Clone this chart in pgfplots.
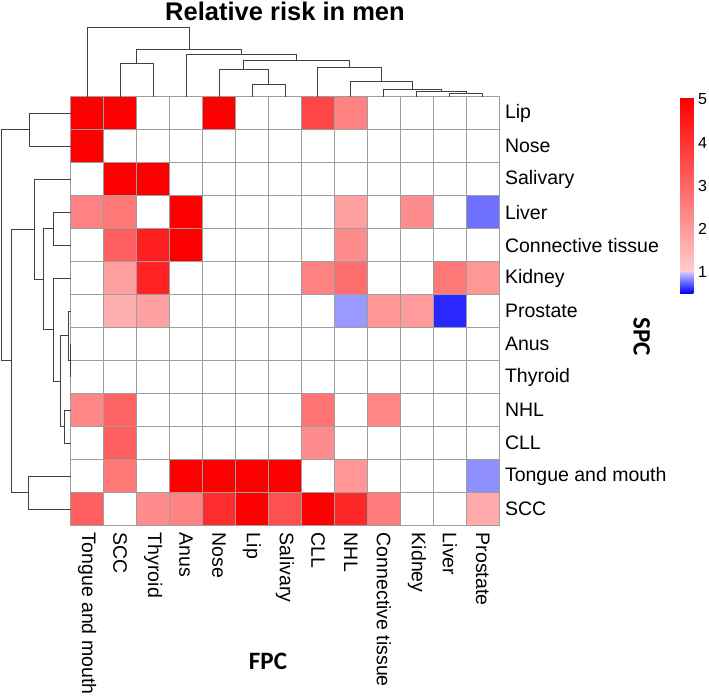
\documentclass[border=0pt]{standalone}
\usepackage{pgfplots}
\pgfplotsset{compat=1.18}
\usepackage{fontspec}
\setmainfont{Liberation Sans}
\newfontfamily\carlito{Carlito}
\newcommand\lblfont{\fontsize{19.5bp}{23bp}\selectfont}
\begin{document}
\begin{tikzpicture}
\useasboundingbox (0,0) rectangle (709bp,697bp);
\pgfplotsset{dend/.style={black!75, line width=1bp}}
% ---------------- heatmap ----------------
\begin{axis}[
  at={(70.7bp,171.3bp)}, anchor=south west,
  width=428.6bp, height=429bp, scale only axis,
  xmin=-0.5, xmax=12.5, ymin=-0.5, ymax=12.5, y dir=reverse,
  xtick={0,...,12}, ytick={0,...,12},
  xticklabels={Tongue and mouth,SCC,Thyroid,Anus,Nose,Lip,Salivary,CLL,NHL,Connective tissue,Kidney,Liver,Prostate},
  yticklabels={Lip,Nose,Salivary,Liver,Connective tissue,Kidney,Prostate,Anus,Thyroid,NHL,CLL,Tongue and mouth,SCC},
  yticklabel pos=right,
  minor xtick={-0.5,0.5,...,12.5}, minor ytick={-0.5,0.5,...,12.5},
  grid=minor, minor grid style={draw=black!38, line width=0.9bp},
  major tick length=0pt, minor tick length=0pt,
  axis line style={draw=black!38, line width=0.9bp},
  axis on top,
  xticklabel style={font=\lblfont, inner sep=0pt, yshift=-7bp, rotate=-90, anchor=west},
  yticklabel style={font=\lblfont, inner sep=0pt, xshift=5.5bp, anchor=west},
  colormap={rr}{rgb255(0pt)=(0,0,255); rgb255(49pt)=(200,200,255); rgb255(50pt)=(255,255,255); rgb255(51pt)=(255,205,205); rgb255(450pt)=(255,0,0); rgb255(455pt)=(255,0,0)},
  point meta min=0.5, point meta max=5.05,
  colorbar,
  colorbar style={
    at={(parent axis.north east)}, anchor=north west,
    xshift=172.2bp, yshift=-0.6bp,
    width=13.3bp, height=196bp, scale only axis,
    ytick={1,2,3,4,5},
    major tick length=0pt,
    axis line style={draw=none},
    yticklabel style={font=\fontsize{16bp}{18bp}\selectfont, /pgf/number format/assume math mode=true, anchor=west, inner sep=0pt, xshift=4.5bp},
  },
]
\addplot[matrix plot*, mesh/cols=13, point meta=explicit] table[meta=v] {
x y v
0 0 5.05
1 0 5.05
2 0 1
3 0 1
4 0 5.05
5 0 1
6 0 1
7 0 3.63
8 0 2.46
9 0 1
10 0 1
11 0 1
12 0 1
0 1 5.05
1 1 1
2 1 1
3 1 1
4 1 1
5 1 1
6 1 1
7 1 1
8 1 1
9 1 1
10 1 1
11 1 1
12 1 1
0 2 1
1 2 5.05
2 2 5.05
3 2 1
4 2 1
5 2 1
6 2 1
7 2 1
8 2 1
9 2 1
10 2 1
11 2 1
12 2 1
0 3 2.46
1 3 2.66
2 3 1
3 3 5.05
4 3 1
5 3 1
6 3 1
7 3 1
8 3 1.88
9 3 1
10 3 2.27
11 3 1
12 3 0.775
0 4 1
1 4 3.15
2 4 4.41
3 4 5.05
4 4 1
5 4 1
6 4 1
7 4 1
8 4 2.27
9 4 1
10 4 1
11 4 1
12 4 1
0 5 1
1 5 1.88
2 5 4.32
3 5 1
4 5 1
5 5 1
6 5 1
7 5 2.46
8 5 2.85
9 5 1
10 5 1
11 5 2.66
12 5 2.07
0 6 1
1 6 1.59
2 6 1.88
3 6 1
4 6 1
5 6 1
6 6 1
7 6 1
8 6 0.875
9 6 2.07
10 6 1.98
11 6 0.6
12 6 1
0 7 1
1 7 1
2 7 1
3 7 1
4 7 1
5 7 1
6 7 1
7 7 1
8 7 1
9 7 1
10 7 1
11 7 1
12 7 1
0 8 1
1 8 1
2 8 1
3 8 1
4 8 1
5 8 1
6 8 1
7 8 1
8 8 1
9 8 1
10 8 1
11 8 1
12 8 1
0 9 2.37
1 9 3.05
2 9 1
3 9 1
4 9 1
5 9 1
6 9 1
7 9 2.76
8 9 1
9 9 2.37
10 9 1
11 9 1
12 9 1
0 10 1
1 10 3.15
2 10 1
3 10 1
4 10 1
5 10 1
6 10 1
7 10 2.27
8 10 1
9 10 1
10 10 1
11 10 1
12 10 1
0 11 1
1 11 2.66
2 11 1
3 11 5.05
4 11 5.05
5 11 5.05
6 11 5.05
7 11 1
8 11 2.07
9 11 1
10 11 1
11 11 1
12 11 0.85
0 12 3.15
1 12 1
2 12 2.27
3 12 2.46
4 12 4.12
5 12 5.05
6 12 3.44
7 12 5.05
8 12 4.22
9 12 2.56
10 12 1
11 12 1
12 12 1.68
};
\end{axis}
% ---------------- top dendrogram ----------------
\begin{axis}[
  at={(70.7bp,600.3bp)}, anchor=south west,
  width=428.6bp, height=70.7bp, scale only axis,
  xmin=-0.5, xmax=12.5, ymin=0, ymax=70.7,
  axis lines=none, clip=false,
]
\addplot[dend] coordinates {(1,0)(1,33.5)(2,33.5)(2,0)};
\addplot[dend] coordinates {(5,0)(5,11.8)(6,11.8)(6,0)};
\addplot[dend] coordinates {(4,0)(4,26.8)(5.5,26.8)(5.5,11.8)};
\addplot[dend] coordinates {(11,0)(11,3)(12,3)(12,0)};
\addplot[dend] coordinates {(10,0)(10,5.5)(11.5,5.5)(11.5,3)};
\addplot[dend] coordinates {(9,0)(9,6.8)(10.75,6.8)(10.75,5.5)};
\addplot[dend] coordinates {(8,0)(8,14.8)(9.875,14.8)(9.875,6.8)};
\addplot[dend] coordinates {(7,0)(7,29.2)(8.9375,29.2)(8.9375,14.8)};
\addplot[dend] coordinates {(4.75,26.8)(4.75,35.8)(7.96875,35.8)(7.96875,29.2)};
\addplot[dend] coordinates {(3,0)(3,42.5)(6.359,42.5)(6.359,35.8)};
\addplot[dend] coordinates {(1.5,33.5)(1.5,47.5)(4.680,47.5)(4.680,42.5)};
\addplot[dend] coordinates {(0,0)(0,69)(3.090,69)(3.090,47.5)};
\end{axis}
% ---------------- left dendrogram ----------------
\begin{axis}[
  at={(0bp,171.3bp)}, anchor=south west,
  width=70.7bp, height=429bp, scale only axis,
  xmin=0, xmax=70.7, x dir=reverse,
  ymin=-0.5, ymax=12.5, y dir=reverse,
  axis lines=none, clip=false,
]
\addplot[dend] coordinates {(0,0)(41.6,0)(41.6,1)(0,1)};
\addplot[dend] coordinates {(0,3)(17.4,3)(17.4,4)(0,4)};
\addplot[dend] coordinates {(0,7)(0,8)};
\addplot[dend] coordinates {(0,6)(2.4,6)(2.4,7.5)(0,7.5)};
\addplot[dend] coordinates {(0,9)(5.7,9)(5.7,10)(0,10)};
\addplot[dend] coordinates {(2.4,6.75)(9.7,6.75)(9.7,9.5)(5.7,9.5)};
\addplot[dend] coordinates {(0,5)(17.4,5)(17.4,8.125)(9.7,8.125)};
\addplot[dend] coordinates {(17.4,3.5)(27.4,3.5)(27.4,6.5625)(17.4,6.5625)};
\addplot[dend] coordinates {(0,2)(36.4,2)(36.4,5.03125)(27.4,5.03125)};
\addplot[dend] coordinates {(0,11)(42.4,11)(42.4,12)(0,12)};
\addplot[dend] coordinates {(36.4,3.515625)(59,3.515625)(59,11.5)(42.4,11.5)};
\addplot[dend] coordinates {(41.6,0.5)(69,0.5)(69,7.5078)(59,7.5078)};
\end{axis}
% ---------------- titles ----------------
\node[anchor=base, font=\bfseries\fontsize{25.5bp}{28bp}\selectfont, inner sep=0pt] at (285bp,676.5bp) {Relative risk in men};
\node[anchor=center, font=\carlito\bfseries\fontsize{25bp}{28bp}\selectfont, inner sep=0pt] at (268bp,36bp) {FPC};
\node[anchor=center, rotate=-90, font=\carlito\bfseries\fontsize{25bp}{28bp}\selectfont, inner sep=0pt] at (641.7bp,360.3bp) {SPC};
\end{tikzpicture}
\end{document}
